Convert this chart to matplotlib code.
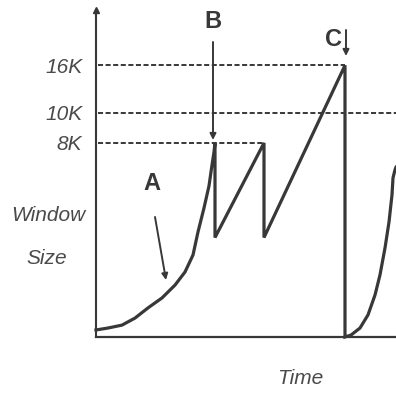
import numpy as np
import matplotlib
matplotlib.use("Agg")
import matplotlib.pyplot as plt

# window size (K) over time
slow_start_t = [0, 1.2, 2.6, 3.9, 5.2, 6.6, 7.9, 8.9, 9.7, 10.2, 10.8, 11.3, 11.6, 11.8, 11.9]
slow_start_k = [0.29, 0.37, 0.49, 0.78, 1.20, 1.61, 2.14, 2.68, 3.38, 4.33, 5.32, 6.23, 7.09, 7.63, 8.0]

saw_t = [11.9, 16.8, 16.8, 24.9, 24.9]
saw_k = [4.1, 8.0, 4.1, 16.0, 0.0]

restart_t = [25.5, 26.4, 27.2, 27.9, 28.4, 28.9, 29.3, 29.6, 29.7, 29.9, 30.0]
restart_k = [0.08, 0.37, 0.91, 1.73, 2.56, 3.67, 4.74, 5.86, 6.56, 6.89, 7.0]

levels = [8, 10, 16]
level_labels = ["8K", "10K", "16K"]
level_end = [16.8, 30.0, 24.9]

t = slow_start_t + saw_t + restart_t
k = slow_start_k + saw_k + restart_k

# the y axis in the drawing is not to scale
k_pts = [0, 8, 10, 16, 30]
u_pts = [0, 8, 9.24, 11.2, 13.48]
def fwd(v):
    return np.interp(v, k_pts, u_pts)
def inv(v):
    return np.interp(v, u_pts, k_pts)

plt.rcParams['font.family'] = ['Liberation Sans', 'DejaVu Sans']
ink = "#383838"
txt = "#4a4a4a"

fig = plt.figure(figsize=(3.96, 3.96), dpi=100)
ax = fig.add_axes([96/396, 59/396, 300/396, 327/396])
ax.set_yscale('function', functions=(fwd, inv))
ax.set_xlim(0, 30)
ax.set_ylim(0, 30)

for lv, end in zip(levels, level_end):
    ax.hlines(lv, 0.2, end, colors=ink, lw=1.4, linestyles=(0, (2.6, 1.3)), clip_on=False)

ax.plot(t, k, color=ink, lw=2.3, solid_joinstyle='miter', clip_on=False)

for s in ["top", "right"]:
    ax.spines[s].set_visible(False)
ax.spines["left"].set_linewidth(1.5)
ax.spines["bottom"].set_linewidth(1.6)
ax.spines["left"].set_color(ink)
ax.spines["bottom"].set_color(ink)
ax.plot([0], [30], marker="^", ms=5, color=ink, clip_on=False)

ax.set_xticks([])
ax.set_yticks(levels)
ax.set_yticklabels(level_labels, style="italic", fontsize=15, color=txt)
ax.tick_params(axis="y", length=0, pad=10)

# annotations
fig.text(48/396, 1 - 216/396, "Window", ha="center", va="center", style="italic", fontsize=15, color=txt)
fig.text(47/396, 1 - 258/396, "Size", ha="center", va="center", style="italic", fontsize=15, color=txt)
fig.text(300/396, 1 - 379/396, "Time", ha="center", va="center", style="italic", fontsize=15, color=txt)

fig.text(152/396, 1 - 184/396, "A", ha="center", va="center", fontsize=17, fontweight="bold", color=ink)
fig.text(213/396, 1 - 21/396, "B", ha="center", va="center", fontsize=17, fontweight="bold", color=ink)
fig.text(333/396, 1 - 40/396, "C", ha="center", va="center", fontsize=17, fontweight="bold", color=ink)

arrow = dict(arrowstyle="-|>", color=ink, lw=1.4, mutation_scale=9, shrinkA=0, shrinkB=0)
ax.annotate("", xy=(166/396, 1 - 280/396), xytext=(155/396, 1 - 217/396),
            xycoords="figure fraction", textcoords="figure fraction", arrowprops=arrow)
ax.annotate("", xy=(213/396, 1 - 140/396), xytext=(213/396, 1 - 42/396),
            xycoords="figure fraction", textcoords="figure fraction", arrowprops=arrow)
ax.annotate("", xy=(346/396, 1 - 56/396), xytext=(346/396, 1 - 30/396),
            xycoords="figure fraction", textcoords="figure fraction", arrowprops=arrow)

fig.savefig("out.png", dpi=100)
